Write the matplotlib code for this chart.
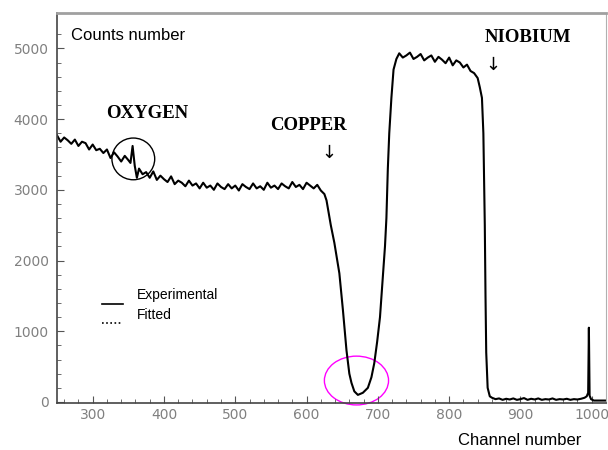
import numpy as np
import matplotlib.pyplot as plt
from matplotlib.patches import Ellipse

# ---- data (channel, counts) ----
# background before the copper dip (oxygen peak near ch 356)
ch_bg = [250, 255, 260, 265, 270, 275, 280, 285, 290, 295, 300, 305, 310, 315, 320,
         325, 330, 335, 340, 345, 350, 353, 356, 359, 362, 365, 370, 375, 380, 385,
         390, 395, 400, 405, 410, 415, 420, 425, 430, 435, 440, 445, 450, 455, 460,
         465, 470, 475, 480, 485, 490, 495, 500, 505, 510, 515, 520, 525, 530, 535,
         540, 545, 550, 555, 560, 565, 570, 575, 580, 585, 590, 595, 600, 605, 610,
         615, 620]
cnt_bg = [3770, 3680, 3740, 3700, 3650, 3710, 3620, 3680, 3660, 3570, 3640, 3560, 3580, 3520, 3570,
          3450, 3530, 3470, 3400, 3480, 3420, 3380, 3620, 3340, 3170, 3300, 3220, 3250, 3170, 3260,
          3140, 3200, 3150, 3110, 3190, 3080, 3130, 3100, 3050, 3130, 3060, 3090, 3020, 3100, 3030,
          3060, 3000, 3090, 3040, 3010, 3080, 3020, 3060, 2990, 3080, 3040, 3010, 3090, 3020, 3050,
          3000, 3100, 3030, 3060, 3010, 3090, 3050, 3020, 3110, 3040, 3070, 3010, 3100, 3060, 3020,
          3070, 2990]

# copper dip
ch_cu = [625, 628, 634, 639, 646, 651, 656, 660, 663, 667, 672, 679, 686, 691, 695,
         699, 703, 707, 710, 712, 714, 716, 719, 722]
cnt_cu = [2940, 2850, 2500, 2250, 1820, 1300, 730, 400, 270, 150, 100, 130, 200, 350, 550,
          850, 1200, 1760, 2200, 2600, 3300, 3800, 4300, 4700]

# niobium plateau and edge
ch_nb = [726, 730, 735, 740, 745, 750, 755, 760, 765, 770, 775, 780, 785, 790, 795,
         800, 805, 810, 815, 820, 825, 830, 835, 840, 843, 846, 848, 850, 851, 852,
         854, 857]
cnt_nb = [4850, 4930, 4870, 4900, 4940, 4850, 4880, 4920, 4830, 4870, 4900, 4810, 4880, 4840, 4790,
          4870, 4760, 4830, 4800, 4730, 4770, 4680, 4650, 4580, 4450, 4300, 3800, 2500, 1500, 700,
          200, 80]

# tail after the niobium edge, with the spike near ch 996
ch_tail = [860, 865, 870, 875, 880, 885, 890, 895, 900, 905, 910, 915, 920, 925, 930,
           935, 940, 945, 950, 955, 960, 965, 970, 975, 980, 985, 990, 993, 995, 996,
           997, 999, 1003, 1010, 1019]
cnt_tail = [60, 40, 50, 30, 45, 35, 50, 30, 40, 55, 30, 45, 35, 50, 30,
            40, 35, 50, 30, 40, 35, 45, 30, 40, 35, 45, 60, 80, 130, 1050,
            90, 40, 20, 20, 20]

channel = np.array(ch_bg + ch_cu + ch_nb + ch_tail)
counts = np.array(cnt_bg + cnt_cu + cnt_nb + cnt_tail)

fig = plt.figure(figsize=(6.08, 4.5), dpi=100)
ax = fig.add_axes([0.0938, 0.1036, 0.9029, 0.8675])

ax.plot(channel, counts, color='black', linewidth=1.5)

ax.set_xlim(250, 1020)
ax.set_ylim(-20, 5500)
ax.set_xticks([300, 400, 500, 600, 700, 800, 900, 1000])
ax.set_xticks(np.arange(260, 1020, 20), minor=True)
ax.set_yticks([0, 1000, 2000, 3000, 4000, 5000])
ax.set_yticks(np.arange(0, 5400, 200), minor=True)
ax.tick_params(which='both', direction='in', colors='#555555', labelcolor='#808080', labelsize=10)
ax.tick_params(which='major', length=5)
ax.tick_params(which='minor', length=3)
ax.tick_params(axis='y', pad=6)

for side in ['left', 'bottom']:
    ax.spines[side].set_color('#444444')
    ax.spines[side].set_linewidth(1.2)
ax.spines['top'].set_color('#a0a0a0')
ax.spines['top'].set_linewidth(2)
ax.spines['right'].set_color('#b0b0b0')

# annotations
ax.text(270, 5184, 'Counts number', fontsize=12, ha='left', va='center', family='Liberation Sans')
ax.text(376, 4082, 'OXYGEN', fontsize=13.5, fontweight='bold', family='Liberation Serif', ha='center', va='center')
ax.text(603, 3912, 'COPPER', fontsize=13.5, fontweight='bold', family='Liberation Serif', ha='center', va='center')
ax.text(910, 5155, 'NIOBIUM', fontsize=13.5, fontweight='bold', family='Liberation Serif', ha='center', va='center')
ax.text(632, 3517, '\u2193', fontsize=13, ha='center', va='center')
ax.text(861, 4760, '\u2193', fontsize=13, ha='center', va='center')

# hand-drawn style legend
ax.plot([313, 342], [1384, 1384], color='black', linewidth=1.2)
ax.plot([313, 340], [1116, 1116], color='black', linewidth=1.2, linestyle=(0, (1, 1.5)))
ax.text(362, 1511, 'Experimental', fontsize=10, ha='left', va='center', family='Liberation Sans')
ax.text(362, 1229, 'Fitted', fontsize=10, ha='left', va='center', family='Liberation Sans')

# circles around the oxygen peak and copper minimum
ax.add_patch(Ellipse((357, 3437), 60, 590, fill=False, edgecolor='black', linewidth=1))
ax.add_patch(Ellipse((670, 303), 90, 690, fill=False, edgecolor='#ff00ff', linewidth=1, clip_on=False))

fig.text(0.854, 0.022, 'Channel number', fontsize=12, ha='center', va='center', family='Liberation Sans')

fig.savefig('out.png', dpi=100)
